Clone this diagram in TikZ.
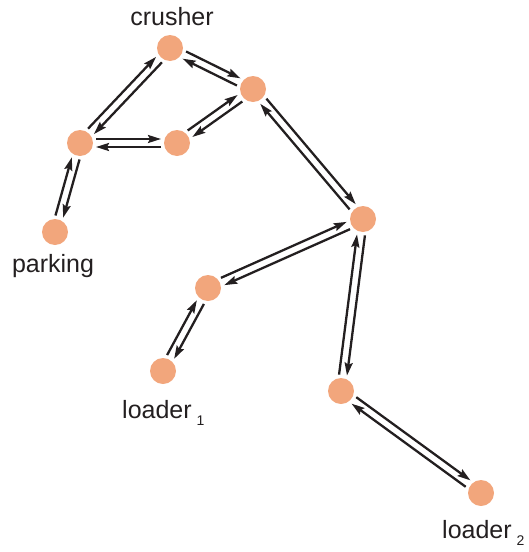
\documentclass[tikz,border=0pt]{standalone}
\usepackage{fontspec}
\setmainfont{Liberation Sans}
\usetikzlibrary{calc,arrows.meta}
\definecolor{nodecol}{RGB}{242,166,124}
\definecolor{ink}{RGB}{35,31,32}
\newcommand\offd{4pt}
\begin{document}
\begin{tikzpicture}[x=1pt,y=-1pt,
  dot/.style={circle,fill=nodecol,draw=none,minimum size=26pt,inner sep=0pt},
  lab/.style={inner sep=0pt,text=ink,font=\fontsize{25}{30}\selectfont},
  arr/.style={draw=ink,line width=2.3pt,-{Stealth[length=13pt,width=8pt,inset=2pt]},shorten <=16pt,shorten >=16pt}]
\useasboundingbox (0,0) rectangle (528,552);
\node[dot] (cr) at (170,48) {};
\node[dot] (a) at (253,89) {};
\node[dot] (b) at (177,143) {};
\node[dot] (c) at (80,143) {};
\node[dot] (pk) at (55,232) {};
\node[dot] (d) at (363,219) {};
\node[dot] (e) at (208,288) {};
\node[dot] (l1) at (163,371) {};
\node[dot] (f) at (341,391) {};
\node[dot] (l2) at (481,493) {};
\node[lab,anchor=base] (tcr) at (172,25) {crusher};
\node[lab,anchor=base] (tpk) at (53,272) {parking};
\node[lab,anchor=base west] (tl1) at (122,418) {loader\hspace{5pt}\raisebox{-7pt}{\fontsize{14}{14}\selectfont 1}};
\node[lab,anchor=base west] (tl2) at (442,538) {loader\hspace{5pt}\raisebox{-7pt}{\fontsize{14}{14}\selectfont 2}};
\foreach \p/\q in {cr/a, c/cr, c/b, b/a, a/d, d/e, e/l1, c/pk, d/f, f/l2}{
  \draw[arr] ($(\p.center)!\offd!90:(\q.center)$) -- ($(\q.center)!\offd!-90:(\p.center)$);
  \draw[arr] ($(\q.center)!\offd!90:(\p.center)$) -- ($(\p.center)!\offd!-90:(\q.center)$);
}
\end{tikzpicture}
\end{document}
